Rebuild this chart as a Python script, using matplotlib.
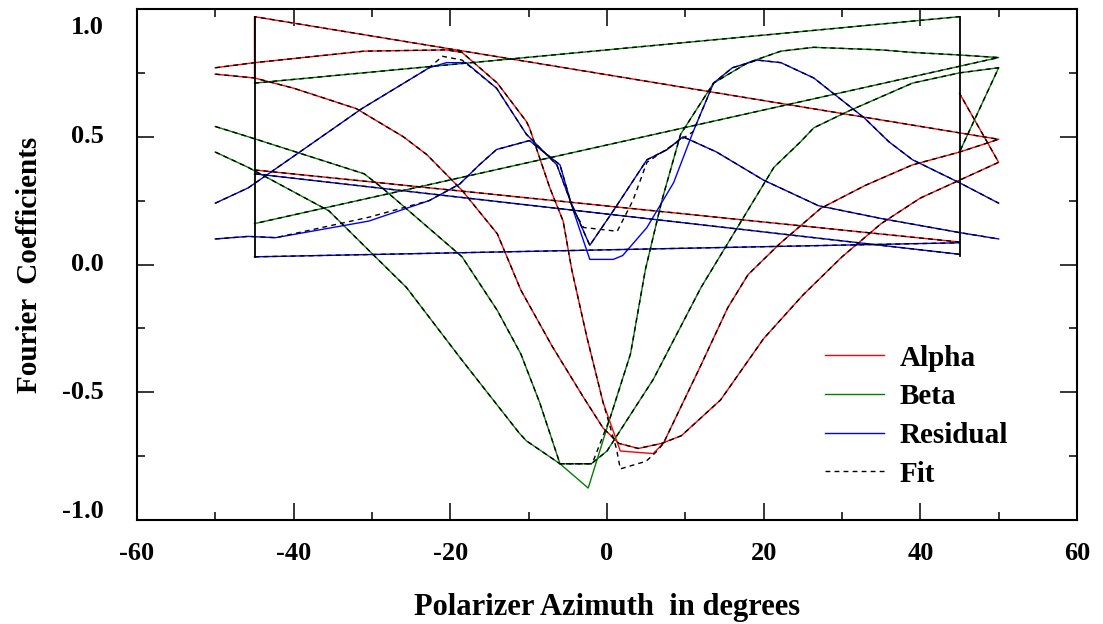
import numpy as np
import matplotlib
matplotlib.use("Agg")
import matplotlib.pyplot as plt
from matplotlib.lines import Line2D

nan = np.nan

# Alpha: smooth V curve, then short tail back to x=45
alpha_a_x = [-50, -45, -40, -32, -26, -23, -18.5, -14, -11, -7, -3, -0.5, 1.5, 4, 7, 9.5, 14.5, 20, 25, 30, 35, 40, 45, 50, 45]
alpha_a_y = [0.745, 0.73, 0.69, 0.61, 0.50, 0.43, 0.29, 0.12, -0.10, -0.32, -0.52, -0.64, -0.70, -0.72, -0.70, -0.67, -0.53, -0.29, -0.12, 0.03, 0.16, 0.26, 0.33, 0.40, 0.67]
# Alpha: peaked curve, straight return to x=-45, short drop
alpha_b_x = [-50, -45, -31, -20.5, -18.5, -14, -10.3, -9.9, -7.3, -5.6, -4.5, -2.6, -0.5, 1.7, 5.9, 7.2, 11.9, 15.4, 18, 22, 27.3, 33, 39, 45, 50, -45, -45]
alpha_b_y = [0.77, 0.79, 0.835, 0.84, 0.83, 0.71, 0.56, 0.535, 0.30, 0.17, -0.02, -0.28, -0.54, -0.73, -0.74, -0.70, -0.40, -0.17, -0.04, 0.08, 0.22, 0.31, 0.39, 0.44, 0.49, 0.97, 0.73]
alpha_c_x = [-45, 45]
alpha_c_y = [0.37, 0.088]

# Beta
beta_a_x = [-50, -45.8, -31, -28.7, -18.5, -14, -11, -8.6, -6, -2.4, 0.4, 3, 4.9, 7, 9.4, 13.6, 18, 22.2, 26.4, 35, 39, 45, 50, -45]
beta_a_y = [0.54, 0.50, 0.355, 0.30, 0.03, -0.18, -0.35, -0.54, -0.78, -0.875, -0.60, -0.35, -0.02, 0.25, 0.51, 0.71, 0.79, 0.835, 0.85, 0.84, 0.83, 0.82, 0.81, 0.16]
beta_b_x = [-50, -45.8, -35.5, -30.4, -25.6, -18.5, -11.2, -10.3, -6, -2, 0, 5.9, 12, 21.3, 24.7, 26.4, 30.8, 39, 45, 50, 45]
beta_b_y = [0.44, 0.38, 0.21, 0.055, -0.09, -0.375, -0.66, -0.69, -0.78, -0.78, -0.73, -0.45, -0.09, 0.38, 0.48, 0.535, 0.60, 0.71, 0.75, 0.77, 0.44]
beta_c_x = [-45, 45]
beta_c_y = [0.71, 0.97]

# Residual
resid_a_x = [-50, -45.8, -39, -31.3, -22.7, -20.5, -18, -14.1, -10.3, -6.4, -4.7, -2.2, 0.8, 5.1, 7.7, 9.7, 14, 20, 27, 35, 45, 50]
resid_a_y = [0.24, 0.30, 0.445, 0.61, 0.77, 0.79, 0.79, 0.69, 0.51, 0.39, 0.25, 0.075, 0.21, 0.41, 0.45, 0.50, 0.44, 0.33, 0.23, 0.18, 0.125, 0.10]
resid_b_x = [-50, -45.8, -42.3, -30.4, -22.7, -18.8, -16.3, -14.1, -9.9, -6, -4.4, -2.2, 0.8, 2, 5.1, 8.5, 11, 13.6, 16, 19.2, 22.2, 26.4, 32.8, 36, 39, 45, 50]
resid_b_y = [0.10, 0.11, 0.105, 0.17, 0.25, 0.315, 0.39, 0.45, 0.485, 0.39, 0.22, 0.02, 0.02, 0.035, 0.145, 0.32, 0.52, 0.71, 0.77, 0.80, 0.79, 0.73, 0.575, 0.48, 0.41, 0.32, 0.24]
resid_c_x = [-45, 45]
resid_c_y = [0.355, 0.04]
resid_d_x = [-45, 45]
resid_d_y = [0.03, 0.085]

# Fit, where it leaves the data
fit_alpha_b_x = [-50, -45, -31, -20.5, -18.5, -14, -10.3, -9.9, -7.3, -5.6, -4.5, -2.6, -0.5, 1.2, 1.7, 5, 6.4, 7.2, 11.9, 15.4, 18, 22, 27.3, 33, 39, 45, 50, -45]
fit_alpha_b_y = [0.77, 0.79, 0.835, 0.84, 0.83, 0.71, 0.56, 0.535, 0.30, 0.17, -0.02, -0.28, -0.54, -0.72, -0.80, -0.77, -0.73, -0.70, -0.40, -0.17, -0.04, 0.08, 0.22, 0.31, 0.39, 0.44, 0.49, 0.97]
fit_beta_a_x = [-50, -45.8, -31, -28.7, -18.5, -14, -11, -8.6, -6, -1.9, 0.4, 3, 4.9, 7, 9.4, 13.6, 18, 22.2, 26.4, 35, 39, 45, 50, -45]
fit_beta_a_y = [0.54, 0.50, 0.355, 0.30, 0.03, -0.18, -0.35, -0.54, -0.78, -0.78, -0.60, -0.35, -0.02, 0.25, 0.51, 0.71, 0.79, 0.835, 0.85, 0.84, 0.83, 0.82, 0.81, 0.16]
fit_resid_a_x = [-50, -45.8, -39, -31.3, -22.7, -21, -18.5, -14.1, -10.3, -6.4, -4.7, -2.2, 0.8, 5.1, 7.7, 9.7, 14, 20, 27, 35, 45, 50]
fit_resid_a_y = [0.24, 0.30, 0.445, 0.61, 0.77, 0.815, 0.80, 0.69, 0.51, 0.39, 0.25, 0.075, 0.21, 0.41, 0.45, 0.50, 0.44, 0.33, 0.23, 0.18, 0.125, 0.10]
fit_resid_b_x = [-50, -45.8, -42.3, -30.4, -22.7, -18.8, -16.3, -14.1, -9.9, -6, -4.4, -3, 1.3, 3.3, 5.1, 9, 11, 13.6, 16, 19.2, 22.2, 26.4, 32.8, 36, 39, 45, 50]
fit_resid_b_y = [0.10, 0.11, 0.105, 0.185, 0.25, 0.315, 0.39, 0.45, 0.485, 0.39, 0.22, 0.145, 0.13, 0.25, 0.40, 0.48, 0.52, 0.71, 0.77, 0.80, 0.79, 0.73, 0.575, 0.48, 0.41, 0.32, 0.24]
fit_edge_x = [-45, -45, nan, 45, 45]
fit_edge_y = [0.97, 0.03, nan, 0.97, 0.035]

y_ticks = [-1.0, -0.5, 0.0, 0.5, 1.0]
y_labels = ['-1.0', '-0.5', '0.0', '0.5', '1.0']
y_label_shift = [9, 0, 0, 0, -19]  # pixels up; the original nudges the end labels inward
x_ticks = [-60, -40, -20, 0, 20, 40, 60]

plt.rcParams['font.family'] = ['Liberation Serif', 'DejaVu Serif']
plt.rcParams['font.weight'] = 'bold'
plt.rcParams['axes.unicode_minus'] = False

fig = plt.figure(figsize=(11.03, 6.24), dpi=100)
ax = fig.add_axes([137 / 1103, 104 / 624, 940 / 1103, 511 / 624])

lw = 1.0
dash = (3.5, 3.0)
for xs, ys in [(alpha_a_x, alpha_a_y), (alpha_b_x, alpha_b_y), (alpha_c_x, alpha_c_y)]:
    ax.plot(xs, ys, color='#ff0000', lw=lw)
for xs, ys in [(beta_a_x, beta_a_y), (beta_b_x, beta_b_y), (beta_c_x, beta_c_y)]:
    ax.plot(xs, ys, color='#008000', lw=lw)
for xs, ys in [(resid_a_x, resid_a_y), (resid_b_x, resid_b_y), (resid_c_x, resid_c_y), (resid_d_x, resid_d_y)]:
    ax.plot(xs, ys, color='#0000ff', lw=lw)

fits = [(alpha_a_x, alpha_a_y), (fit_alpha_b_x, fit_alpha_b_y), (alpha_c_x, alpha_c_y),
        (fit_beta_a_x, fit_beta_a_y), (beta_b_x, beta_b_y), (beta_c_x, beta_c_y),
        (fit_resid_a_x, fit_resid_a_y), (fit_resid_b_x, fit_resid_b_y),
        (resid_c_x, resid_c_y), (resid_d_x, resid_d_y)]
for xs, ys in fits:
    ax.plot(xs, ys, color='black', lw=lw, ls=(0, dash))
ax.plot(fit_edge_x, fit_edge_y, color='black', lw=1.3)

ax.set_xlim(-60, 60)
ax.set_ylim(-1.0, 1.0)
ax.set_xticks(x_ticks)
ax.set_xticks([-50, -30, -10, 10, 30, 50], minor=True)
ax.set_yticks(y_ticks)
ax.set_yticks([-0.75, -0.25, 0.25, 0.75], minor=True)
ax.set_yticklabels([])
ax.tick_params(which='both', direction='in', top=True, right=True, width=1.1, labelsize=19, pad=16)
ax.tick_params(which='major', length=12)
ax.tick_params(which='minor', length=5.5)
for s in ax.spines.values():
    s.set_linewidth(1.5)

for v, lab, sh in zip(y_ticks, y_labels, y_label_shift):
    ax.annotate(lab, xy=(0, v), xycoords=('axes fraction', 'data'),
                xytext=(-24, sh * 0.72), textcoords='offset points',
                ha='right', va='center', fontsize=19, fontweight='bold')

ax.set_xlabel('Polarizer Azimuth  in degrees', fontsize=22, fontweight='bold', labelpad=20)
ax.set_ylabel('Fourier  Coefficients', fontsize=21, fontweight='bold', labelpad=52)

handles = [Line2D([], [], color='#ff0000', lw=lw),
           Line2D([], [], color='#008000', lw=lw),
           Line2D([], [], color='#0000ff', lw=lw),
           Line2D([], [], color='black', lw=lw, ls=(0, dash))]
ax.legend(handles, ['Alpha', 'Beta', 'Residual', 'Fit'], loc='upper left',
          bbox_to_anchor=(0.72, 0.366), frameon=False, fontsize=21,
          handlelength=2.0, handletextpad=0.55, labelspacing=0.40, borderaxespad=0)

fig.savefig('out.png', dpi=100)
